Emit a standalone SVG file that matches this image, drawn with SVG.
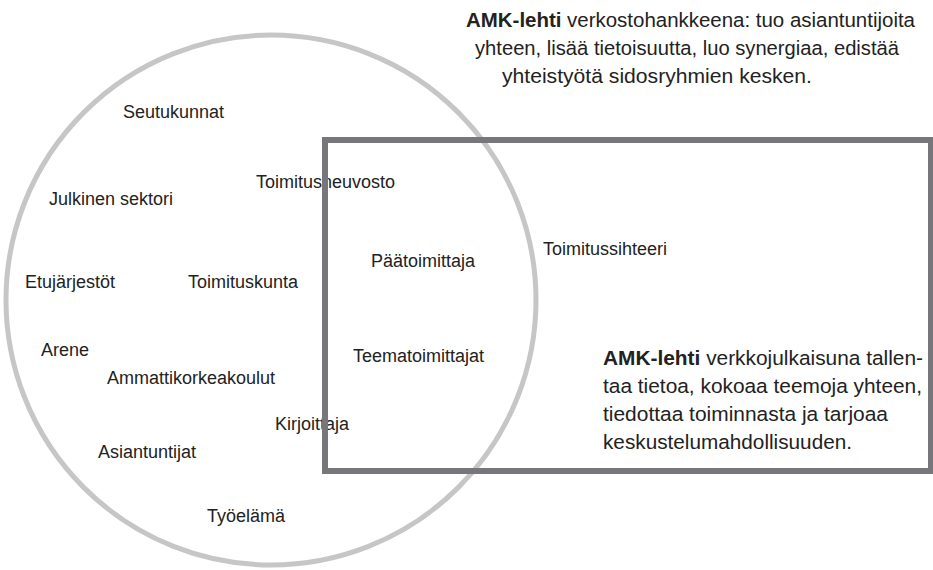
<svg xmlns="http://www.w3.org/2000/svg" width="933" height="570" viewBox="0 0 933 570">
<style>
  .lbl { font-family: "Liberation Sans", Arial, sans-serif; font-size: 18px; fill: #222; }
  .par { font-family: "Liberation Sans", Arial, sans-serif; font-size: 20.5px; fill: #222; }
  .b { font-weight: bold; }
  .circle { fill: none; stroke: #c6c6c6; stroke-width: 5; }
  .frame { fill: none; stroke: #77777b; stroke-width: 6; }
</style>
<rect width="933" height="570" fill="#fff"/>
<g id="network-circle"><circle class="circle" cx="271" cy="300" r="265"/></g>
<g id="seutukunnat"><text class="lbl" x="123" y="118">Seutukunnat</text></g>
<g id="julkinen-sektori"><text class="lbl" x="49" y="205">Julkinen sektori</text></g>
<g id="toimitusneuvosto"><text class="lbl" x="256" y="188">Toimitusneuvosto</text></g>
<g id="etujarjestot"><text class="lbl" x="25" y="288">Etujärjestöt</text></g>
<g id="toimituskunta"><text class="lbl" x="188" y="288">Toimituskunta</text></g>
<g id="arene"><text class="lbl" x="41" y="356">Arene</text></g>
<g id="ammattikorkeakoulut"><text class="lbl" x="107" y="384">Ammattikorkeakoulut</text></g>
<g id="kirjoittaja"><text class="lbl" x="275" y="430">Kirjoittaja</text></g>
<g id="asiantuntijat"><text class="lbl" x="98" y="458">Asiantuntijat</text></g>
<g id="tyoelama"><text class="lbl" x="207" y="522">Työelämä</text></g>
<g id="paatoimittaja"><text class="lbl" x="371" y="267">Päätoimittaja</text></g>
<g id="teematoimittajat"><text class="lbl" x="353" y="362">Teematoimittajat</text></g>
<g id="toimitussihteeri"><text class="lbl" x="543" y="255">Toimitussihteeri</text></g>
<g id="network-text">
  <text class="par" x="466" y="27" textLength="449" lengthAdjust="spacingAndGlyphs"><tspan class="b">AMK-lehti</tspan> verkostohankkeena: tuo asiantuntijoita</text>
  <text class="par" x="475" y="55" textLength="424" lengthAdjust="spacingAndGlyphs">yhteen, lisää tietoisuutta, luo synergiaa, edistää</text>
  <text class="par" x="502" y="83" textLength="310" lengthAdjust="spacingAndGlyphs">yhteistyötä sidosryhmien kesken.</text>
</g>
<g id="web-text">
  <text class="par" x="603" y="365" textLength="320" lengthAdjust="spacingAndGlyphs"><tspan class="b">AMK-lehti</tspan> verkkojulkaisuna tallen-</text>
  <text class="par" x="603" y="393" textLength="319" lengthAdjust="spacingAndGlyphs">taa tietoa, kokoaa teemoja yhteen,</text>
  <text class="par" x="603" y="421" textLength="285" lengthAdjust="spacingAndGlyphs">tiedottaa toiminnasta ja tarjoaa</text>
  <text class="par" x="603" y="449" textLength="249" lengthAdjust="spacingAndGlyphs">keskustelumahdollisuuden.</text>
</g>
<g id="web-frame"><rect class="frame" x="325" y="140" width="606" height="331"/></g>
</svg>
